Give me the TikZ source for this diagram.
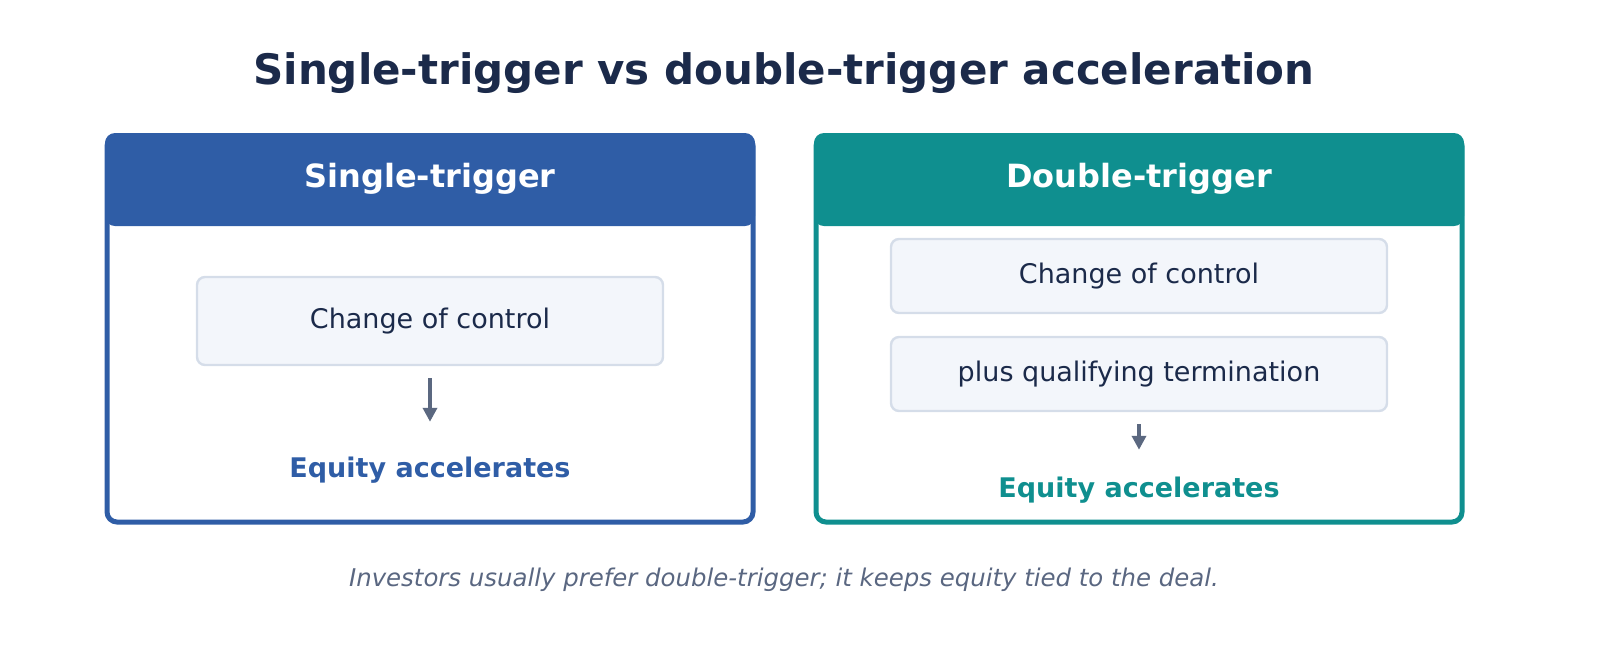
\documentclass[tikz,border=0pt]{standalone}
\usepackage{fontspec}
\setmainfont{DejaVu Sans}
\usetikzlibrary{arrows.meta}
\definecolor{navy}{HTML}{1B2A4A}
\definecolor{singleblue}{HTML}{2F5DA6}
\definecolor{doubleteal}{HTML}{0F8F8F}
\definecolor{stepfill}{HTML}{F3F6FB}
\definecolor{stepline}{HTML}{D5DDE9}
\definecolor{arrowgray}{HTML}{5B6880}
\definecolor{notegray}{HTML}{5A6781}

\begin{document}
\begin{tikzpicture}[x=0.5pt, y=-0.5pt,
    stepbox/.style = {draw=stepline, line width=1.2pt, fill=stepfill, rounded corners=4pt, text=navy, font=\fontsize{13.5}{16}\selectfont},
    head/.style = {text=white, font=\bfseries\fontsize{16}{19}\selectfont},
    result/.style = {font=\bfseries\fontsize{13.5}{16}\selectfont},
    flow/.style = {draw=arrowgray, line width=2pt, -{Triangle[length=7pt,width=7pt]}}]

    \useasboundingbox (0,0) rectangle (1610,645);

    % Title
    \node[text=navy, font=\bfseries\fontsize{21}{25}\selectfont] (title) at (784,73) {Single-trigger vs double-trigger acceleration};

    % Panels
    \fill[singleblue, rounded corners=5pt] (105,133) rectangle (755,226);
    \draw[singleblue, line width=2.5pt, rounded corners=5pt] (107,136) rectangle (753,522);
    \fill[doubleteal, rounded corners=5pt] (814,133) rectangle (1464,226);
    \draw[doubleteal, line width=2.5pt, rounded corners=5pt] (816,136) rectangle (1462,522);

    % Nodes
    \node[head] (S0) at (430,179) {Single-trigger};
    \node[head] (D0) at (1139,179) {Double-trigger};
    \node[stepbox, minimum width=233pt, minimum height=44pt] (S1) at (430,321) {Change of control};
    \node[result, text=singleblue] (S2) at (430,470) {Equity accelerates};
    \node[stepbox, minimum width=248pt, minimum height=37pt] (D1) at (1139,276) {Change of control};
    \node[stepbox, minimum width=248pt, minimum height=37pt] (D2) at (1139,374) {plus qualifying termination};
    \node[result, text=doubleteal] (D3) at (1139,490) {Equity accelerates};

    % Edges
    \draw[flow, shorten <=6pt, shorten >=14pt] (S1) to (S2);
    \draw[flow, shorten <=6pt, shorten >=10pt] (D2) to (D3);

    % Note
    \node[text=notegray, font=\itshape\fontsize{12.2}{14}\selectfont] (note) at (784,580) {Investors usually prefer double-trigger; it keeps equity tied to the deal.};
\end{tikzpicture}
\end{document}
